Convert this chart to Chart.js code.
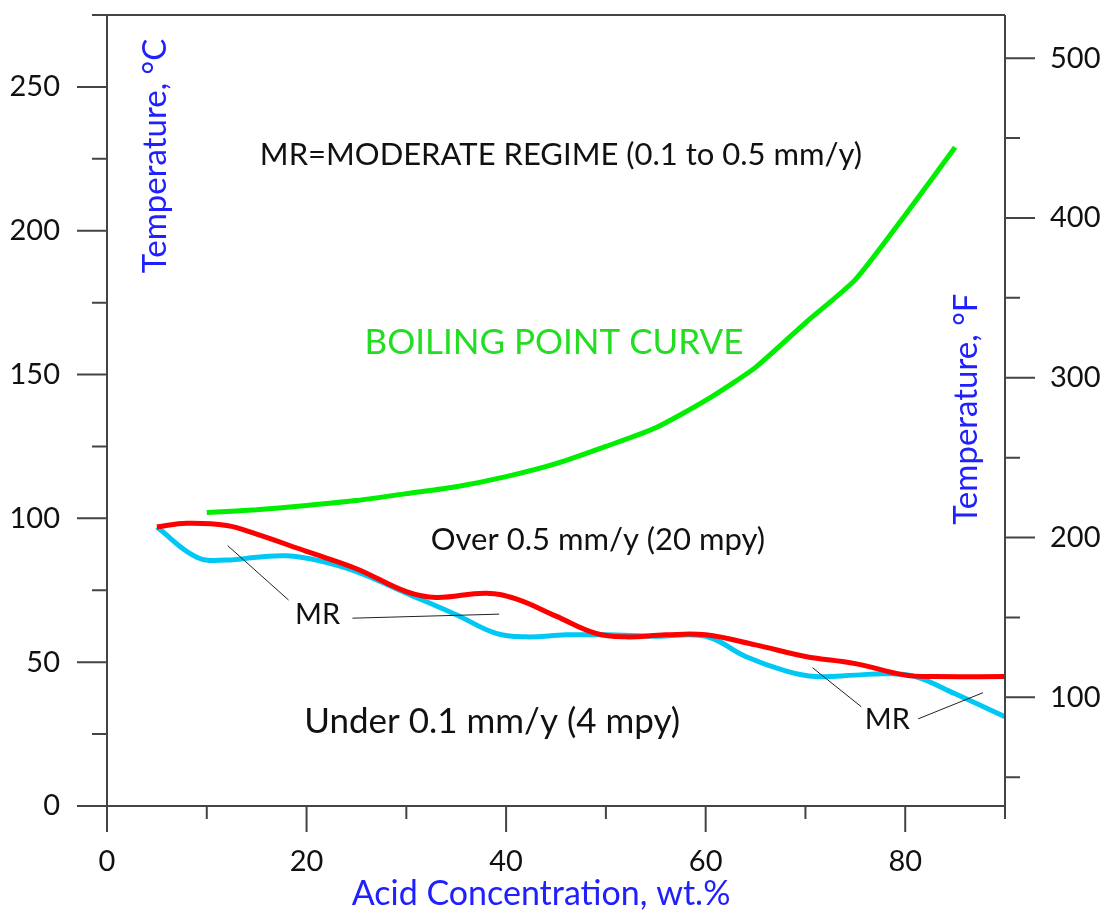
<!DOCTYPE html>
<html>
<head>
<meta charset="utf-8">
<script src="https://cdn.jsdelivr.net/npm/chart.js@4.4.1/dist/chart.umd.min.js"></script>
<style>
  html, body { margin: 0; padding: 0; background: #fff; }
  #wrap { width: 1102px; height: 910px; position: relative; }
</style>
</head>
<body>
<div id="wrap"><canvas id="chart"></canvas></div>
<script>
// boiling point curve (acid conc. wt.%, temperature °C)
const boilConc = [10, 15, 20, 25, 30, 35, 40, 45, 50, 55, 60, 65, 70, 75, 80, 85];
const boilTemp = [102, 103, 104.5, 106.2, 108.6, 111, 114.5, 119, 125, 131.5, 141, 152.5, 168, 183, 205.5, 229];

// 0.5 mm/y iso-corrosion line (red)
const overConc = [5, 8, 12, 15, 20, 25, 30, 33, 38, 41, 45, 49, 52, 56, 60, 65, 70, 75, 80, 83, 90];
const overTemp = [97, 98.3, 97.5, 94.5, 88.5, 82.5, 74.5, 72.5, 74, 72, 66, 60, 58.8, 59.5, 59.5, 56, 52, 49.5, 45.5, 45, 45];

// 0.1 mm/y iso-corrosion line (cyan)
const underConc = [5, 9, 12, 15, 18, 21, 25, 30, 35, 39, 42, 46, 50, 55, 60, 64, 68, 71, 75, 78, 81, 85, 90];
const underTemp = [97, 86.5, 85.5, 86.5, 87, 85.5, 81.5, 74, 66.5, 60, 58.8, 59.5, 59.5, 59, 59, 52, 47, 45, 45.5, 46, 45, 39, 31];

// axis ticks
const cTicks = [0, 25, 50, 75, 100, 125, 150, 175, 200, 225, 250];
const fTicks = [50, 100, 150, 200, 250, 300, 350, 400, 450, 500];
const concTicks = [0, 10, 20, 30, 40, 50, 60, 70, 80, 90];

const FONT = 'Lato, "DejaVu Sans", sans-serif';
const AXIS = '#444';
const BLUE = '#2020ff';

function pts(xs, ys) {
  return xs.map((v, i) => ({ x: v, y: ys[i] }));
}

// texts and leader lines placed in data units (conc, °C)
const notes = [
  { text: 'MR=MODERATE REGIME (0.1 to 0.5 mm/y)', x: 45.5, y: 226.4, size: 31, color: '#111' },
  { text: 'BOILING POINT CURVE', x: 44.8, y: 161, size: 35, color: '#22dd22' },
  { text: 'Over 0.5 mm/y (20 mpy)', x: 49.2, y: 92.5, size: 31, color: '#111' },
  { text: 'Under 0.1 mm/y (4 mpy)', x: 38.6, y: 29.2, size: 35, color: '#111' },
  { text: 'MR', x: 21.1, y: 66.4, size: 29, color: '#111' },
  { text: 'MR', x: 78.2, y: 29.9, size: 29, color: '#111' }
];
const leaders = [
  [12.1, 90.5, 18.2, 71.6],
  [24.6, 65.3, 39.3, 66.7],
  [70.7, 48.1, 75.6, 34.5],
  [81.3, 30.3, 87.8, 39.4]
];

const framePlugin = {
  id: 'frame',
  afterDraw(chart) {
    const { ctx, chartArea: a, scales } = chart;
    const x = scales.x, y = scales.y, y2 = scales.y2;
    ctx.save();
    ctx.strokeStyle = AXIS;
    ctx.lineWidth = 2;
    ctx.beginPath();
    ctx.moveTo(a.left - 15, a.top); ctx.lineTo(a.right, a.top);
    ctx.moveTo(a.left, a.top); ctx.lineTo(a.left, a.bottom + 26);
    ctx.moveTo(a.left - 30, a.bottom); ctx.lineTo(a.right, a.bottom);
    ctx.moveTo(a.right, a.top); ctx.lineTo(a.right, a.bottom + 13);
    cTicks.forEach(v => {
      const p = y.getPixelForValue(v);
      ctx.moveTo(a.left - (v % 50 ? 15 : 30), p); ctx.lineTo(a.left, p);
    });
    fTicks.forEach(v => {
      const p = y2.getPixelForValue(v);
      ctx.moveTo(a.right, p); ctx.lineTo(a.right + (v % 100 ? 15 : 30), p);
    });
    concTicks.forEach(v => {
      const p = x.getPixelForValue(v);
      ctx.moveTo(p, a.bottom); ctx.lineTo(p, a.bottom + (v % 20 ? 13 : 26));
    });
    ctx.stroke();

    // leader lines for MR
    ctx.strokeStyle = '#222';
    ctx.lineWidth = 1;
    ctx.beginPath();
    leaders.forEach(l => {
      ctx.moveTo(x.getPixelForValue(l[0]), y.getPixelForValue(l[1]));
      ctx.lineTo(x.getPixelForValue(l[2]), y.getPixelForValue(l[3]));
    });
    ctx.stroke();

    ctx.textAlign = 'center';
    ctx.textBaseline = 'middle';
    notes.forEach(n => {
      ctx.font = n.size + 'px ' + FONT;
      ctx.fillStyle = n.color;
      ctx.fillText(n.text, x.getPixelForValue(n.x), y.getPixelForValue(n.y));
    });

    // axis titles
    ctx.fillStyle = BLUE;
    ctx.font = '33px ' + FONT;
    ctx.save();
    ctx.translate(x.getPixelForValue(4.8), y.getPixelForValue(226));
    ctx.rotate(-Math.PI / 2);
    ctx.fillText('Temperature, °C', 0, 0);
    ctx.restore();
    ctx.save();
    ctx.translate(x.getPixelForValue(86.1), y.getPixelForValue(138));
    ctx.rotate(-Math.PI / 2);
    ctx.fillText('Temperature, °F', 0, 0);
    ctx.restore();
    ctx.font = '34px ' + FONT;
    ctx.fillText('Acid Concentration, wt.%', x.getPixelForValue(43.5), a.bottom + 88);
    ctx.restore();
  }
};

function noPad(s) {
  s.paddingTop = 0;
  s.paddingBottom = 0;
}

new Chart(document.getElementById('chart'), {
  type: 'line',
  data: {
    datasets: [
      {
        label: '0.5 mm/y',
        data: pts(overConc, overTemp),
        borderColor: '#ff0000',
        borderWidth: 5,
        tension: 0.4,
        pointRadius: 0,
        order: 1
      },
      {
        label: '0.1 mm/y',
        data: pts(underConc, underTemp),
        borderColor: '#00c8f5',
        borderWidth: 5,
        tension: 0.4,
        pointRadius: 0,
        order: 2
      },
      {
        label: 'Boiling point',
        data: pts(boilConc, boilTemp),
        borderColor: '#00ee00',
        borderWidth: 5,
        tension: 0.2,
        pointRadius: 0,
        order: 3
      }
    ]
  },
  options: {
    responsive: true,
    maintainAspectRatio: false,
    animation: false,
    layout: { padding: { top: 15, left: 0, right: 0, bottom: 0 } },
    plugins: {
      legend: { display: false },
      tooltip: { enabled: false }
    },
    scales: {
      x: {
        type: 'linear',
        min: 0,
        max: 90,
        grid: { display: false, drawTicks: false },
        border: { display: false },
        afterBuildTicks: s => { s.ticks = [0, 20, 40, 60, 80].map(v => ({ value: v })); },
        afterFit: s => { s.height = 104; s.paddingLeft = 0; s.paddingRight = 0; },
        ticks: {
          autoSkip: false,
          maxRotation: 0,
          padding: 38,
          color: '#111',
          font: { family: FONT, size: 29 }
        }
      },
      y: {
        position: 'left',
        min: 0,
        max: 275,
        grid: { display: false, drawTicks: false },
        border: { display: false },
        afterBuildTicks: s => { s.ticks = cTicks.filter(v => v % 50 === 0).map(v => ({ value: v })); },
        afterFit: s => { s.width = 107; noPad(s); },
        ticks: {
          autoSkip: false,
          padding: 47,
          color: '#111',
          font: { family: FONT, size: 29 }
        }
      },
      y2: {
        position: 'right',
        min: 32,
        max: 527,
        grid: { display: false, drawTicks: false },
        border: { display: false },
        afterBuildTicks: s => { s.ticks = fTicks.filter(v => v % 100 === 0).map(v => ({ value: v })); },
        afterFit: s => { s.width = 97; noPad(s); },
        ticks: {
          autoSkip: false,
          padding: 45,
          color: '#111',
          font: { family: FONT, size: 29 }
        }
      }
    }
  },
  plugins: [framePlugin]
});
</script>
</body>
</html>
